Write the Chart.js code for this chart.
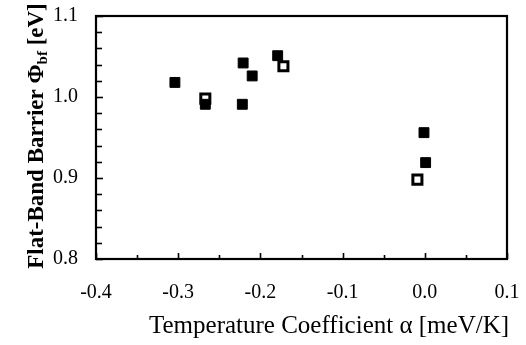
<!DOCTYPE html>
<html>
<head>
<meta charset="utf-8">
<script src="https://cdn.jsdelivr.net/npm/chart.js@4/dist/chart.umd.min.js"></script>
<style>
  html, body { margin: 0; padding: 0; background: #fff; }
  #wrap { width: 526px; height: 345px; }
</style>
</head>
<body>
<div id="wrap"><canvas id="c" width="526" height="345"></canvas></div>
<script>
// Flat-band barrier height versus temperature coefficient
const filledX = [-0.304, -0.267, -0.221, -0.210, -0.222, -0.179, -0.001, 0.001];
const filledY = [1.018, 0.991, 1.042, 1.026, 0.991, 1.051, 0.956, 0.919];
const openX = [-0.267, -0.172, -0.009];
const openY = [0.998, 1.038, 0.898];

const xMin = -0.4, xMax = 0.1, xStep = 0.05;
const yMin = 0.8, yMax = 1.1, yStep = 0.02;

const xTitle = 'Temperature Coefficient \u03B1 [meV/K]';
const yTitleMain = 'Flat-Band Barrier \u03A6';
const yTitleSub = 'bf';
const yTitleEnd = ' [eV]';

const FONT = '"Liberation Serif", "DejaVu Serif", serif';

function isTenth(v) {
  return Math.abs(v * 10 - Math.round(v * 10)) < 1e-6;
}
function fmt(v) {
  const s = (Math.round(v * 10) / 10).toFixed(1);
  return s === '-0.0' ? '0.0' : s;
}

function zip(xs, ys) { return xs.map((x, i) => ({ x: x, y: ys[i] })); }

function noPad(s) {
  s.paddingTop = 0; s.paddingBottom = 0; s.paddingLeft = 0; s.paddingRight = 0;
}

// Frame, inward tick marks and axis titles
const framePlugin = {
  id: 'frame',
  afterDraw(chart) {
    const ctx = chart.ctx;
    const a = chart.chartArea;
    const xs = chart.scales.x, ys = chart.scales.y;
    ctx.save();
    ctx.strokeStyle = '#000';
    ctx.lineWidth = 1.6;
    // x ticks (inward from bottom)
    xs.ticks.forEach(t => {
      const px = Math.round(xs.getPixelForValue(t.value)) + 0.5;
      const len = isTenth(t.value) ? 6 : 4;
      ctx.beginPath();
      ctx.moveTo(px, a.bottom);
      ctx.lineTo(px, a.bottom - len);
      ctx.stroke();
    });
    // y ticks (inward from left)
    ys.ticks.forEach(t => {
      const py = Math.round(ys.getPixelForValue(t.value)) + 0.5;
      const len = isTenth(t.value) ? 7 : 6;
      ctx.beginPath();
      ctx.moveTo(a.left, py);
      ctx.lineTo(a.left + len, py);
      ctx.stroke();
    });
    // frame
    ctx.lineWidth = 2.2;
    ctx.strokeRect(a.left, a.top, a.right - a.left, a.bottom - a.top);

    // x title
    ctx.fillStyle = '#000';
    ctx.font = '25px ' + FONT;
    ctx.textAlign = 'center';
    ctx.textBaseline = 'alphabetic';
    ctx.fillText(xTitle, 329, 333);

    // y title, rotated, with subscript
    ctx.translate(43, 136);
    ctx.rotate(-Math.PI / 2);
    const big = 'bold 23px ' + FONT;
    const small = 'bold 15px ' + FONT;
    ctx.textAlign = 'left';
    ctx.font = big;
    const w1 = ctx.measureText(yTitleMain).width;
    const w3 = ctx.measureText(yTitleEnd).width;
    ctx.font = small;
    const w2 = ctx.measureText(yTitleSub).width;
    let x0 = -(w1 + w2 + w3) / 2;
    ctx.font = big;
    ctx.fillText(yTitleMain, x0, 0);
    ctx.font = small;
    ctx.fillText(yTitleSub, x0 + w1, 4);
    ctx.font = big;
    ctx.fillText(yTitleEnd, x0 + w1 + w2, 0);
    ctx.restore();
  }
};

new Chart(document.getElementById('c'), {
  type: 'scatter',
  data: {
    datasets: [
      {
        label: 'filled',
        data: zip(filledX, filledY),
        pointStyle: 'rect',
        pointRadius: 7,
        backgroundColor: '#000',
        borderColor: '#000',
        borderWidth: 1
      },
      {
        label: 'open',
        data: zip(openX, openY),
        pointStyle: 'rect',
        pointRadius: 6.4,
        backgroundColor: 'rgba(0,0,0,0)',
        borderColor: '#000',
        borderWidth: 3
      }
    ]
  },
  options: {
    responsive: false,
    animation: false,
    events: [],
    layout: { padding: { top: 16, right: 19, bottom: 0, left: 0 } },
    plugins: { legend: { display: false }, tooltip: { enabled: false } },
    scales: {
      x: {
        type: 'linear',
        position: 'bottom',
        min: xMin, max: xMax,
        border: { display: false },
        grid: { display: false, drawTicks: false },
        ticks: {
          stepSize: xStep,
          autoSkip: false,
          maxRotation: 0,
          padding: 22,
          color: '#000',
          font: { family: FONT, size: 20 },
          callback: v => isTenth(v) ? fmt(v) : ''
        },
        afterFit: s => { s.height = 86; noPad(s); }
      },
      y: {
        type: 'linear',
        position: 'left',
        min: yMin, max: yMax,
        border: { display: false },
        grid: { display: false, drawTicks: false },
        ticks: {
          stepSize: yStep,
          autoSkip: false,
          padding: 18,
          color: '#000',
          font: { family: FONT, size: 20 },
          callback: v => isTenth(v) ? fmt(v) : ''
        },
        afterFit: s => { s.width = 96; noPad(s); }
      }
    }
  },
  plugins: [framePlugin]
});
</script>
</body>
</html>
